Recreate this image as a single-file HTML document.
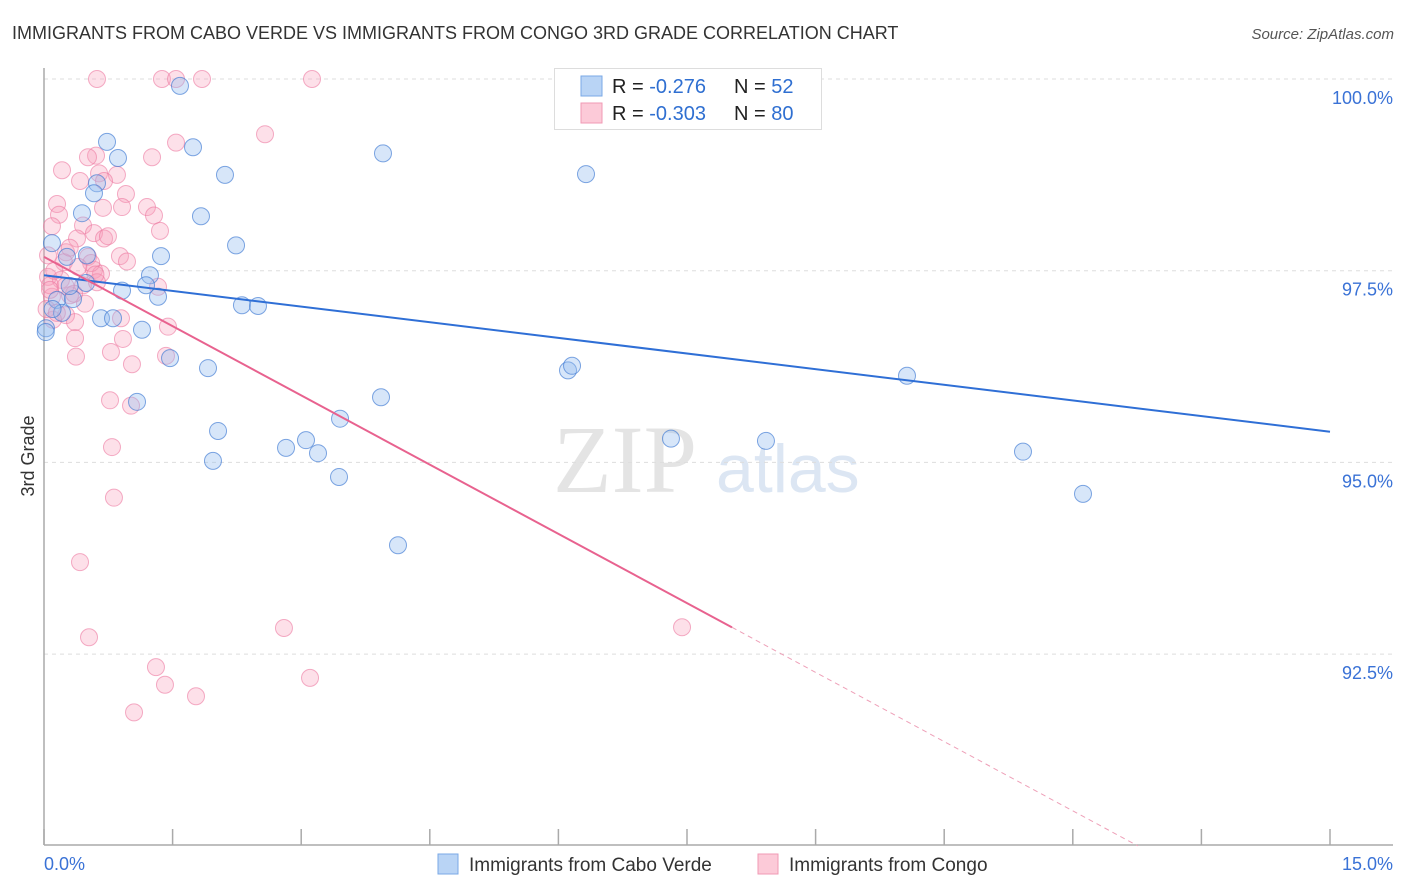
<!DOCTYPE html>
<html><head><meta charset="utf-8">
<style>
body{margin:0;background:#fff;font-family:"Liberation Sans",sans-serif;}
svg{display:block}
</style></head>
<body>
<svg id="chart" width="1406" height="892">
<text x="12" y="39" font-size="18" fill="#333">IMMIGRANTS FROM CABO VERDE VS IMMIGRANTS FROM CONGO 3RD GRADE CORRELATION CHART</text>
<text x="1394" y="39" font-size="15" fill="#555" font-style="italic" text-anchor="end">Source: ZipAtlas.com</text>
<text transform="translate(34,456) rotate(-90)" font-size="18" fill="#333" text-anchor="middle">3rd Grade</text>
<g>
<text x="553" y="492" font-family="Liberation Serif,serif" font-size="96" fill="#e4e4e4">ZIP</text>
<text x="716" y="492" font-size="68" fill="#dce6f3">atlas</text>
</g>
<g id="grid"></g>
<g id="axes"></g>
<g id="pts"></g>
<g id="trend"></g>
<g>
<rect x="554.5" y="68.5" width="267" height="61" fill="#fff" stroke="#ddd"/>
<rect x="581" y="76" width="21" height="20" fill="#b9d4f5" stroke="#7aa8e6"/>
<rect x="581" y="103" width="21" height="20" fill="#fccad8" stroke="#f09ab4"/>
<text x="612" y="93" font-size="20" fill="#222">R = <tspan fill="#2f6fd1">-0.276</tspan></text>
<text x="734" y="93" font-size="20" fill="#222">N = <tspan fill="#2f6fd1">52</tspan></text>
<text x="612" y="120" font-size="20" fill="#222">R = <tspan fill="#2f6fd1">-0.303</tspan></text>
<text x="734" y="120" font-size="20" fill="#222">N = <tspan fill="#2f6fd1">80</tspan></text>
</g>
<g>
<rect x="438" y="854" width="20" height="20" fill="#b9d4f5" stroke="#7aa8e6"/>
<text x="469" y="871" font-size="19" fill="#333">Immigrants from Cabo Verde</text>
<rect x="758" y="854" width="20" height="20" fill="#fccad8" stroke="#f09ab4"/>
<text x="789" y="871" font-size="19" fill="#333">Immigrants from Congo</text>
</g>
</svg>
<script>
const blueX=[1.586,0.735,0.863,1.738,3.954,2.111,6.322,0.618,0.583,0.443,1.831,2.240,1.365,0.093,0.268,1.236,0.490,0.910,1.190,1.330,2.309,2.496,0.152,0.338,0.210,0.665,0.805,1.143,0.023,1.470,1.913,6.112,6.159,10.066,3.931,3.453,1.085,2.030,3.056,2.823,3.196,7.313,8.421,11.419,1.971,3.441,12.119,4.129,0.02,0.3,0.5,0.1];
const blueY=[99.91,99.18,98.97,99.11,99.03,98.75,98.76,98.64,98.51,98.25,98.21,97.83,97.69,97.86,97.68,97.44,97.34,97.24,97.31,97.16,97.05,97.04,97.12,97.13,96.95,96.88,96.88,96.73,96.75,96.36,96.23,96.20,96.26,96.13,95.85,95.57,95.79,95.41,95.29,95.19,95.12,95.31,95.28,95.14,95.02,94.81,94.59,93.92,96.7,97.3,97.7,97.0];
const pinkX=[0.618,1.376,1.540,1.843,3.126,2.578,1.540,1.260,0.607,0.513,0.210,0.642,0.851,0.420,0.700,0.956,0.152,1.201,0.688,0.910,0.175,1.283,0.455,0.093,1.353,0.583,0.700,0.385,0.746,0.886,0.968,0.257,0.047,0.233,0.513,0.583,0.665,0.047,0.198,0.455,0.618,1.330,0.093,0.478,0.257,0.898,0.362,1.446,0.105,0.921,0.362,0.781,0.373,1.026,1.423,0.770,1.015,0.793,0.816,0.420,2.799,7.442,0.525,1.306,3.103,1.411,1.773,1.050,0.070,0.303,0.03,0.12,0.35,0.55,0.25,0.15,0.4,0.07,0.6,0.3];
const pinkY=[100,100,100,100,100,99.28,99.17,98.98,99.00,98.98,98.81,98.77,98.75,98.67,98.67,98.50,98.37,98.33,98.32,98.33,98.23,98.22,98.09,98.08,98.02,97.99,97.92,97.92,97.95,97.69,97.62,97.74,97.70,97.61,97.68,97.51,97.46,97.42,97.38,97.31,97.35,97.29,97.16,97.07,96.92,96.88,96.83,96.77,96.86,96.61,96.62,96.44,96.38,96.28,96.39,95.81,95.74,95.20,94.54,93.70,92.84,92.85,92.72,92.33,92.19,92.10,91.95,91.74,97.31,97.18,97.0,97.5,97.2,97.6,97.3,96.95,97.55,97.25,97.45,97.8];
const yTicks=[100,97.5,95,92.5];
const yTickLabels=["100.0%","97.5%","95.0%","92.5%"];
const xTicks=[0,1.5,3,4.5,6,7.5,9,10.5,12,13.5,15];
const xTickLabels=["0.0%","15.0%"];
const blueTrend=[97.44,-0.136];
const pinkTrend=[97.68,-0.602];
const pinkSolidEnd=8.025;

const NS="http://www.w3.org/2000/svg";
const X=v=>44+v*(1286/15);
const Y=v=>79+(100-v)*(191.7/2.5);
function mk(tag,attrs,parent){const e=document.createElementNS(NS,tag);for(const k in attrs)e.setAttribute(k,attrs[k]);parent.appendChild(e);return e;}
const grid=document.getElementById('grid'),axes=document.getElementById('axes'),pts=document.getElementById('pts'),trend=document.getElementById('trend');
yTicks.forEach((t,i)=>{
  const l=mk('line',{x1:44,x2:1393,y1:Y(t),y2:Y(t),stroke:'#ddd','stroke-dasharray':'4,4'},grid);
  
  
  const tx=mk('text',{x:1393,y:Y(t)+25,'font-size':18,fill:'#3a72d6','text-anchor':'end'},axes);
  tx.textContent=yTickLabels[i];
  
  
});
const ya=mk('line',{x1:44,x2:44,y1:68,y2:845,stroke:'#aaa','stroke-width':1.5},axes);


const xa=mk('line',{x1:44,x2:1393,y1:845,y2:845,stroke:'#aaa','stroke-width':1.5},axes);


xTicks.forEach(t=>{
  const tk=mk('line',{x1:X(t),x2:X(t),y1:829,y2:845,stroke:'#aaa','stroke-width':1.5},axes);
  
  
});
const xl0=mk('text',{x:44,y:870,'font-size':18,fill:'#3a72d6'},axes);
xl0.textContent=xTickLabels[0];


const xl1=mk('text',{x:1393,y:870,'font-size':18,fill:'#3a72d6','text-anchor':'end'},axes);
xl1.textContent=xTickLabels[1];


pinkX.forEach((v,i)=>{
  const c=mk('circle',{cx:X(v),cy:Y(pinkY[i]),r:8.5,fill:'rgba(248,160,188,0.32)',stroke:'rgba(236,120,160,0.6)','stroke-width':1},pts);
  
  
});
blueX.forEach((v,i)=>{
  const c=mk('circle',{cx:X(v),cy:Y(blueY[i]),r:8.5,fill:'rgba(150,190,238,0.38)',stroke:'rgba(60,120,210,0.65)','stroke-width':1},pts);
  
  
});
const bt=mk('line',{x1:X(0),y1:Y(blueTrend[0]),x2:X(15),y2:Y(blueTrend[0]+blueTrend[1]*15),stroke:'#2f6fd6','stroke-width':2},trend);


const pt=mk('line',{x1:X(0),y1:Y(pinkTrend[0]),x2:X(pinkSolidEnd),y2:Y(pinkTrend[0]+pinkTrend[1]*pinkSolidEnd),stroke:'#e8628f','stroke-width':2},trend);


const xEnd=(90-pinkTrend[0])/pinkTrend[1];
const pd=mk('line',{x1:X(pinkSolidEnd),y1:Y(pinkTrend[0]+pinkTrend[1]*pinkSolidEnd),x2:X(xEnd),y2:Y(90),stroke:'#eea0b8','stroke-width':1,'stroke-dasharray':'5,4'},trend);


</script>
</body></html>
